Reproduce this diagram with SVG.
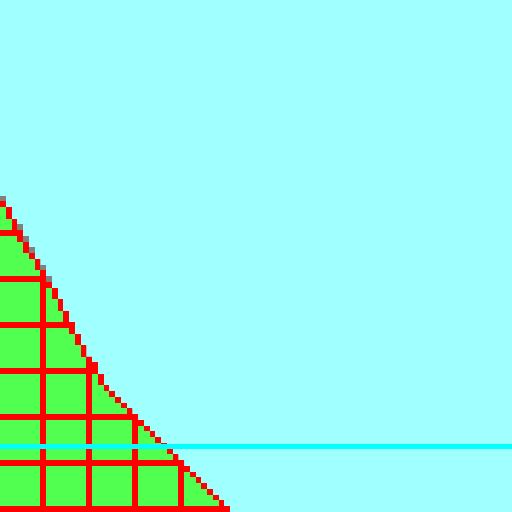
<svg xmlns="http://www.w3.org/2000/svg" width="512" height="512" viewBox="0 0 512 512" shape-rendering="crispEdges">
  <defs>
    <style>
      .green { fill: #50ff50; }
      .red { fill: #ff0000; }
      .gray { fill: #808080; }
    </style>
    <path id="tri" d="M0 35H1V36H2V38H3V40H4V42H5V44H6V45H7V47H8V49H9V50H10V52H11V54H12V56H13V58H14V60H15V62H16V63H17V65H18V67H19V68H20V69H21V70H22V71H23V72H24V73H25V74H26V75H27V76H28V77H29V78H30V79H31V80H32V81H33V82H34V83H35V84H36V85H37V86H38V87H39V88H40V89H0Z"/>
    <clipPath id="triClip">
      <use href="#tri"/>
    </clipPath>
  </defs>
  <rect id="background" x="0" y="0" width="512" height="512" fill="#a0ffff"/>
  <g id="triangle" transform="scale(5.752809)">
    <use href="#tri" class="green"/>
    <g id="grid" clip-path="url(#triClip)" class="red">
      <rect x="0" y="40" width="89" height="1"/>
      <rect x="0" y="48" width="89" height="1"/>
      <rect x="0" y="56" width="89" height="1"/>
      <rect x="0" y="64" width="89" height="1"/>
      <rect x="0" y="72" width="89" height="1"/>
      <rect x="0" y="80" width="89" height="1"/>
      <rect x="0" y="88" width="89" height="1"/>
      <rect x="7" y="0" width="1" height="89"/>
      <rect x="15" y="0" width="1" height="89"/>
      <rect x="23" y="0" width="1" height="89"/>
      <rect x="31" y="0" width="1" height="89"/>
    </g>
    <path id="edge" class="red" d="M0 35h1v1h-1z M1 36h1v2h-1z M2 38h1v2h-1z M3 40h1v2h-1z M4 42h1v2h-1z M5 44h1v1h-1z M6 45h1v2h-1z M7 47h1v2h-1z M8 49h1v1h-1z M9 50h1v2h-1z M10 52h1v2h-1z M11 54h1v2h-1z M12 56h1v2h-1z M13 58h1v2h-1z M14 60h1v2h-1z M15 62h1v1h-1z M16 63h1v2h-1z M17 65h1v2h-1z M18 67h1v1h-1z M19 68h1v1h-1z M20 69h1v1h-1z M21 70h1v1h-1z M22 71h1v1h-1z M23 72h1v1h-1z M24 73h1v1h-1z M25 74h1v1h-1z M26 75h1v1h-1z M27 76h1v1h-1z M28 77h1v1h-1z M29 78h1v1h-1z M30 79h1v1h-1z M31 80h1v1h-1z M32 81h1v1h-1z M33 82h1v1h-1z M34 83h1v1h-1z M35 84h1v1h-1z M36 85h1v1h-1z M37 86h1v1h-1z M38 87h1v1h-1z M39 88h1v1h-1z"/>
    <path id="shade" class="gray" d="M0 34h1v1h-1z M3 39h1v1h-1z M4 41h1v1h-1z M5 43h1v1h-1z M7 46h1v1h-1z M8 48h1v1h-1z"/>
  </g>
  <rect id="cyan-line" x="0" y="443.5" width="512" height="5.5" fill="#00ffff"/>
</svg>
